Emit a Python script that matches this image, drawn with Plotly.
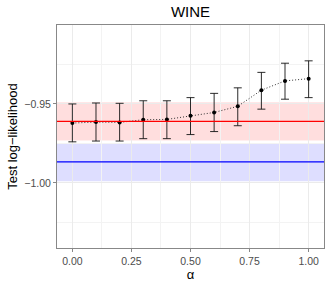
import plotly.graph_objects as go

alpha = [0.0, 0.1, 0.2, 0.3, 0.4, 0.5, 0.6, 0.7, 0.8, 0.9, 1.0]
mean_ll = [-0.9621, -0.9615, -0.9617, -0.9600, -0.9598, -0.9575, -0.9554, -0.9515, -0.9413, -0.9354, -0.9340]
upper_ll = [-0.9500, -0.9494, -0.9496, -0.9480, -0.9480, -0.9460, -0.9433, -0.9398, -0.9300, -0.9242, -0.9227]
lower_ll = [-0.9740, -0.9735, -0.9735, -0.9720, -0.9720, -0.9694, -0.9675, -0.9638, -0.9533, -0.9470, -0.9460]

red_mean, red_lo, red_hi = -0.9610, -0.9731, -0.9490
blue_mean, blue_lo, blue_hi = -0.9867, -0.9990, -0.9750

x_ticks = [0.0, 0.25, 0.5, 0.75, 1.0]
x_ticklabels = ["0.00", "0.25", "0.50", "0.75", "1.00"]
y_ticks = [-1.00, -0.95]
y_ticklabels = ["\u22121.00", "\u22120.95"]

fig = go.Figure()

shapes = [
    dict(type="rect", xref="paper", yref="y", x0=0, x1=1, y0=red_lo, y1=red_hi,
         fillcolor="rgba(255,0,0,0.13)", line=dict(width=0), layer="below"),
    dict(type="rect", xref="paper", yref="y", x0=0, x1=1, y0=blue_lo, y1=blue_hi,
         fillcolor="rgba(0,0,255,0.13)", line=dict(width=0), layer="below"),
    dict(type="line", xref="paper", yref="y", x0=0, x1=1, y0=red_mean, y1=red_mean,
         line=dict(color="#ff0000", width=1.3)),
    dict(type="line", xref="paper", yref="y", x0=0, x1=1, y0=blue_mean, y1=blue_mean,
         line=dict(color="#0000ff", width=1.3)),
]

fig.add_trace(go.Scatter(
    x=alpha, y=mean_ll, mode="lines+markers",
    line=dict(color="#333333", width=1, dash="1px,2px"),
    marker=dict(color="black", size=4),
    error_y=dict(type="data", symmetric=False,
                 array=[u - m for u, m in zip(upper_ll, mean_ll)],
                 arrayminus=[m - l for m, l in zip(mean_ll, lower_ll)],
                 color="rgba(20,20,20,0.9)", thickness=1, width=4),
    showlegend=False,
))

fig.update_layout(
    width=332, height=285,
    margin=dict(l=57, r=7, t=25, b=34),
    paper_bgcolor="white", plot_bgcolor="white",
    shapes=shapes,
    title=dict(text="WINE", x=0.5, xref="paper", xanchor="center", y=1 - 12/285, yanchor="middle",
               font=dict(family="Liberation Sans, Arial, sans-serif", size=15, color="black")),
    font=dict(family="Liberation Sans, Arial, sans-serif"),
)

fig.update_xaxes(
    range=[-0.065, 1.065],
    tickvals=x_ticks, ticktext=x_ticklabels,
    tickfont=dict(size=10.5, color="#4d4d4d"),
    ticks="outside", ticklen=3, tickcolor="#888888",
    showline=True, linecolor="#888888", linewidth=1, mirror=True,
    showgrid=True, gridcolor="#ebebeb", gridwidth=1,
    minor=dict(tickvals=[0.125, 0.375, 0.625, 0.875], showgrid=True, gridcolor="#f3f3f3", gridwidth=0.5),
    zeroline=False,
    title=dict(text="\u03b1", font=dict(size=13, color="black"), standoff=2),
)

fig.update_yaxes(
    range=[-1.04125, -0.90],
    tickvals=y_ticks, ticktext=y_ticklabels,
    tickfont=dict(size=10.5, color="#4d4d4d"),
    ticks="outside", ticklen=3, tickcolor="#888888",
    showline=True, linecolor="#888888", linewidth=1, mirror=True,
    showgrid=True, gridcolor="#ebebeb", gridwidth=1,
    minor=dict(tickvals=[-1.025, -0.975, -0.925], showgrid=True, gridcolor="#f3f3f3", gridwidth=0.5),
    zeroline=False,
    title=dict(text="Test log\u2212likelihood", font=dict(size=13, color="black"), standoff=3),
)

fig.write_html("out.html", config={"displayModeBar": False},
               post_script="document.body.style.margin='0';document.body.style.padding='0';")
